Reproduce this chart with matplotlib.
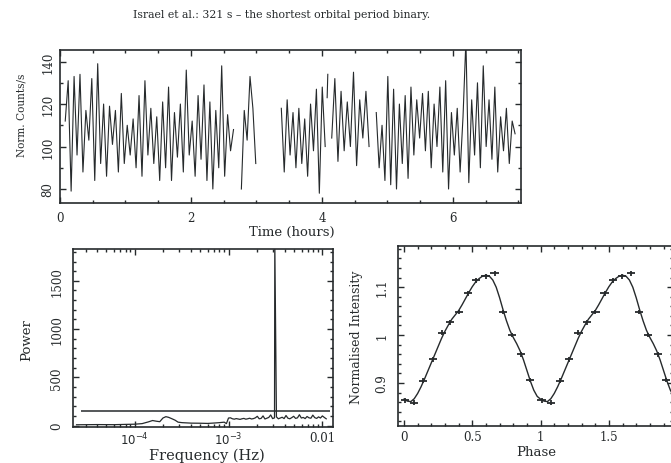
import numpy as np
import matplotlib.pyplot as plt
from matplotlib.ticker import MultipleLocator, FixedLocator, LogLocator, NullFormatter

plt.rcParams['font.family'] = ['DejaVu Serif']
plt.rcParams['font.size'] = 8.5

INK = '#262a2c'

# ---- light curve, one list of counts per stretch of data (start hour, end hour)
seg_a_span = (0.08, 2.65)
seg_a = [112, 131, 79, 133, 96, 134, 88, 117, 103, 132,
         84, 139, 92, 120, 86, 119, 101, 117, 88, 125,
         92, 110, 96, 113, 90, 124, 86, 131, 96, 118,
         92, 114, 84, 121, 90, 128, 84, 116, 95, 120,
         88, 136, 96, 112, 86, 124, 94, 129, 84, 121,
         80, 117, 90, 138, 86, 115, 98, 108]
seg_b_span = (2.77, 2.99)
seg_b = [80, 117, 103, 133, 118, 92]
seg_c_span = (3.38, 4.05)
seg_c = [118, 88, 122, 96, 116, 90, 118, 92, 113, 86, 120, 98, 127, 78, 128, 100]
seg_d_span = (4.08, 4.09)
seg_d = [123, 134]
seg_e_span = (4.15, 4.72)
seg_e = [104, 132, 93, 126, 98, 121, 100, 135, 91, 122, 104, 126, 100]
seg_f_span = (4.83, 6.95)
seg_f = [116, 90, 110, 84, 133, 82, 127, 80, 120, 92,
         124, 85, 128, 96, 122, 104, 125, 98, 126, 90,
         120, 100, 128, 88, 131, 80, 116, 96, 118, 88,
         114, 150, 83, 122, 96, 130, 90, 138, 100, 122,
         94, 128, 88, 114, 98, 118, 92, 112, 106]

# ---- power spectrum
freq_lo = [2.4e-5, 4e-5, 6e-5, 8e-5, 1.0e-4, 1.2e-4, 1.4e-4, 1.55e-4, 1.7e-4, 1.85e-4,
           2.0e-4, 2.15e-4, 2.3e-4, 2.5e-4, 2.7e-4, 2.9e-4, 3.2e-4, 4e-4, 5e-4, 6e-4,
           7e-4, 8e-4, 9e-4, 9.5e-4, 1.0e-3, 1.05e-3]
power_lo = [8, 10, 9, 12, 14, 20, 38, 52, 45, 40,
            78, 92, 85, 70, 55, 35, 30, 25, 24, 22,
            26, 30, 35, 20, 78, 80]
power_hi = [70, 66, 72, 68, 64, 70, 74, 66, 70, 76, 68, 72, 80, 96, 70, 74, 100, 68, 76, 84,
            110, 72, 80, 90, 70, 78, 86, 72, 104, 76, 70, 82, 96, 74, 80, 112, 78, 84, 72, 94,
            80, 76, 108, 82, 74, 90, 78, 100, 84, 70]
freq_hi_range = (1.1e-3, 1.1e-2)
spike_freq = 3.115e-3
spike_power = 1900
threshold = 155
threshold_range = (2.67e-5, 0.0122)

# ---- folded light curve
phase = [0.007, 0.075, 0.14, 0.21, 0.277, 0.338, 0.402, 0.468, 0.53, 0.597,
         0.663, 0.722, 0.788, 0.858, 0.92]
intensity = [0.864, 0.859, 0.905, 0.949, 1.005, 1.027, 1.048, 1.087, 1.114, 1.123,
             1.129, 1.048, 1.000, 0.960, 0.906]
phase_halfwidth = 0.03
intensity_err = 0.005
fit_phase = [0.000, 0.025, 0.050, 0.075, 0.100, 0.125, 0.150, 0.175, 0.200, 0.225,
             0.250, 0.275, 0.300, 0.325, 0.350, 0.375, 0.400, 0.425, 0.450, 0.475,
             0.500, 0.525, 0.550, 0.575, 0.600, 0.625, 0.650, 0.675, 0.700, 0.725,
             0.750, 0.775, 0.800, 0.825, 0.850, 0.875, 0.900, 0.925, 0.950, 0.975]
fit_value = [0.866, 0.862, 0.861, 0.867, 0.878, 0.892, 0.908, 0.925, 0.942, 0.959,
             0.976, 0.993, 1.008, 1.021, 1.033, 1.042, 1.051, 1.063, 1.076, 1.089,
             1.101, 1.111, 1.118, 1.123, 1.125, 1.123, 1.115, 1.100, 1.078, 1.053,
             1.030, 1.010, 0.995, 0.982, 0.967, 0.948, 0.926, 0.904, 0.885, 0.872]


def style(ax):
    ax.tick_params(which='both', direction='in', top=True, right=True,
                   color=INK, labelcolor=INK, width=1.0)
    ax.tick_params(which='major', length=4.5)
    ax.tick_params(which='minor', length=2.2)
    for s in ax.spines.values():
        s.set_linewidth(1.2)
        s.set_color(INK)
    for lab in ax.get_yticklabels():
        lab.set_rotation(90)
        lab.set_va('center')


fig = plt.figure(figsize=(6.71, 4.64), dpi=100)

fig.text(0.419, 0.968, 'Israel et al.: 321 s \u2013 the shortest orbital period binary.',
         ha='center', va='center', fontsize=7.8, color=INK)

# ---- top: light curve
ax1 = fig.add_axes([0.0894, 0.5603, 0.687, 0.330])
for span, vals in [(seg_a_span, seg_a), (seg_b_span, seg_b), (seg_c_span, seg_c),
                   (seg_d_span, seg_d), (seg_e_span, seg_e), (seg_f_span, seg_f)]:
    t = np.linspace(span[0], span[1], len(vals))
    ax1.plot(t, vals, color=INK, lw=0.8)
ax1.set_xlim(0, 7.04)
ax1.set_ylim(73.4, 145.5)
ax1.xaxis.set_major_locator(MultipleLocator(2))
ax1.xaxis.set_minor_locator(MultipleLocator(0.5))
ax1.yaxis.set_major_locator(MultipleLocator(20))
ax1.yaxis.set_minor_locator(MultipleLocator(10))
ax1.set_xlabel('Time (hours)', fontsize=9.5, color=INK)
ax1.xaxis.set_label_coords(0.503, -0.142)
ax1.set_ylabel('Norm. Counts/s', fontsize=7.6, color=INK)
ax1.yaxis.set_label_coords(-0.072, 0.58)
ax1.tick_params(axis='x', pad=6)
ax1.tick_params(axis='y', pad=4)
style(ax1)

# ---- bottom left: power spectrum
ax2 = fig.add_axes([0.1088, 0.0776, 0.3875, 0.3836])
freq_hi = np.geomspace(freq_hi_range[0], freq_hi_range[1], len(power_hi))
freq = np.concatenate([freq_lo, freq_hi])
power = np.concatenate([power_lo, power_hi])
k = np.searchsorted(freq, spike_freq)
freq = np.insert(freq, k, spike_freq)
power = np.insert(power, k, spike_power)
ax2.plot(freq, power, color=INK, lw=0.9)
ax2.hlines(threshold, threshold_range[0], threshold_range[1], color=INK, lw=1.1)
ax2.set_xscale('log')
ax2.set_xlim(2.2e-5, 0.013)
ax2.set_ylim(-15, 1830)
ax2.xaxis.set_major_locator(FixedLocator([1e-4, 1e-3, 1e-2]))
ax2.set_xticklabels(['$10^{-4}$', '$10^{-3}$', '0.01'])
ax2.xaxis.set_minor_locator(LogLocator(base=10, subs=np.arange(2, 10)))
ax2.xaxis.set_minor_formatter(NullFormatter())
ax2.yaxis.set_major_locator(MultipleLocator(500))
ax2.yaxis.set_minor_locator(MultipleLocator(100))
ax2.set_xlabel('Frequency (Hz)', fontsize=10.5, color=INK)
ax2.xaxis.set_label_coords(0.515, -0.115)
ax2.set_ylabel('Power', fontsize=9.5, color=INK)
ax2.yaxis.set_label_coords(-0.154, 0.494)
ax2.tick_params(axis='x', pad=3)
ax2.tick_params(axis='y', pad=7)
style(ax2)

# ---- bottom right: folded light curve, two cycles
ax3 = fig.add_axes([0.5931, 0.0797, 0.410, 0.388])
ph = np.concatenate([phase, np.array(phase) + 1])
inten = np.concatenate([intensity, intensity])
ax3.errorbar(ph, inten, xerr=phase_halfwidth, yerr=intensity_err, fmt='none',
             ecolor=INK, elinewidth=1.3, capsize=0)
fph = np.concatenate([fit_phase, np.array(fit_phase) + 1, [2.0]])
fval = np.concatenate([fit_value, fit_value, [fit_value[0]]])
ax3.plot(fph, fval, color=INK, lw=1.0)
ax3.set_xlim(-0.044, 1.97)
ax3.set_ylim(0.81, 1.186)
ax3.xaxis.set_major_locator(FixedLocator([0, 0.5, 1, 1.5]))
ax3.set_xticklabels(['0', '0.5', '1', '1.5'])
ax3.xaxis.set_minor_locator(MultipleLocator(0.1))
ax3.yaxis.set_major_locator(FixedLocator([0.9, 1.0, 1.1]))
ax3.set_yticklabels(['0.9', '1', '1.1'])
ax3.yaxis.set_minor_locator(MultipleLocator(0.02))
ax3.set_xlabel('Phase', fontsize=9.5, color=INK)
ax3.xaxis.set_label_coords(0.504, -0.108)
ax3.set_ylabel('Normalised Intensity', fontsize=9, color=INK)
ax3.yaxis.set_label_coords(-0.128, 0.5)
ax3.tick_params(axis='x', pad=3)
ax3.tick_params(axis='y', pad=7)
style(ax3)

fig.savefig('out.png', dpi=100)
